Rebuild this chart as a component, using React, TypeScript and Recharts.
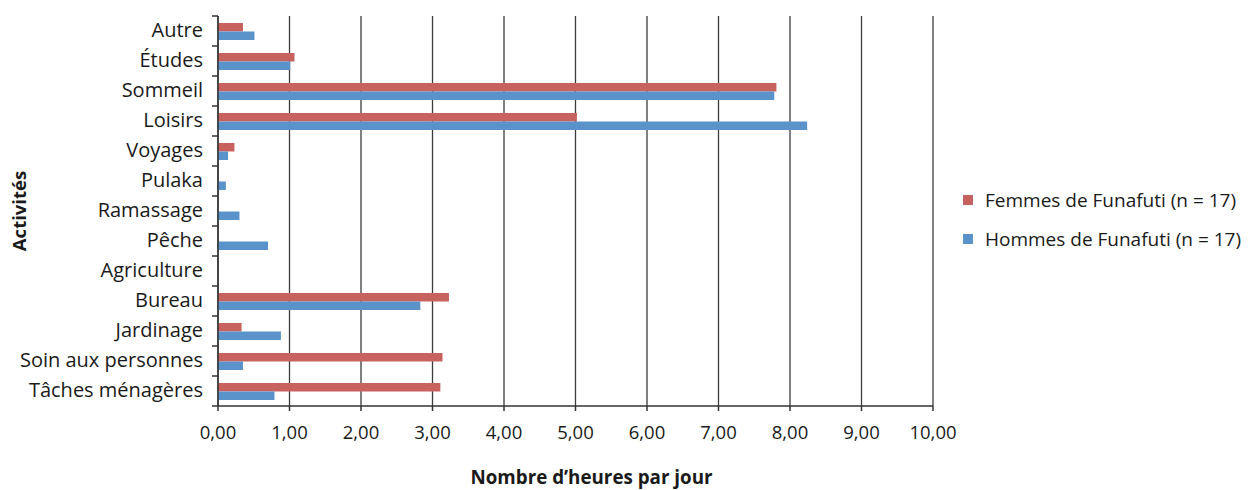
import React from 'react';
import { BarChart, Bar, XAxis, YAxis, CartesianGrid, Legend, Label } from 'recharts';

const categories = [
  'Autre',
  'Études',
  'Sommeil',
  'Loisirs',
  'Voyages',
  'Pulaka',
  'Ramassage',
  'Pêche',
  'Agriculture',
  'Bureau',
  'Jardinage',
  'Soin aux personnes',
  'Tâches ménagères',
];
const femmes = [0.35, 1.07, 7.81, 5.02, 0.23, 0, 0, 0, 0, 3.23, 0.33, 3.14, 3.11];
const hommes = [0.51, 1.01, 7.78, 8.24, 0.14, 0.11, 0.3, 0.7, 0, 2.83, 0.88, 0.35, 0.79];
const hourTicks = [0, 1, 2, 3, 4, 5, 6, 7, 8, 9, 10];

const seriesNames = {
  femmes: 'Femmes de Funafuti (n = 17)',
  hommes: 'Hommes de Funafuti (n = 17)',
};

const RED = '#C8625E';
const BLUE = '#5A93C9';
const AXIS = '#333';
const FONT = '"Open Sans", sans-serif';

const Y_AXIS_W = 218;

const data = categories.map((name, i) => ({ name, femmes: femmes[i], hommes: hommes[i] }));

// category labels, with the tick marks sitting on the band edges
const CategoryTick = (props: any) => {
  const { y, payload, index } = props;
  const half = payload?.offset ?? 15;
  const last = index === categories.length - 1;
  return (
    <g>
      <line x1={Y_AXIS_W - 6} x2={Y_AXIS_W} y1={y - half} y2={y - half} stroke={AXIS} strokeWidth={1.5} />
      {last && (
        <line x1={Y_AXIS_W - 6} x2={Y_AXIS_W} y1={y + half} y2={y + half} stroke={AXIS} strokeWidth={1.5} />
      )}
      <text x={Y_AXIS_W - 15} y={y - 1} dy="0.35em" textAnchor="end" fontSize={20} fill="#1a1a1a">
        {payload.value}
      </text>
    </g>
  );
};

const LegendBox = () => (
  <div style={{ fontFamily: FONT, fontSize: 19, color: '#1a1a1a' }}>
    {[
      { label: seriesNames.femmes, color: RED },
      { label: seriesNames.hommes, color: BLUE },
    ].map((item) => (
      <div key={item.label} style={{ display: 'flex', alignItems: 'center', height: 39.5 }}>
        <span
          style={{
            display: 'inline-block',
            flexShrink: 0,
            width: 10,
            height: 10,
            background: item.color,
            marginLeft: 30,
            marginRight: 12,
          }}
        />
        <span style={{ whiteSpace: 'nowrap', flexShrink: 0 }}>{item.label}</span>
      </div>
    ))}
  </div>
);

export default function App() {
  return (
    <div style={{ position: 'absolute', left: 0, top: 0, width: 1253, height: 490, background: '#fff', fontFamily: FONT }}>
      <BarChart
        width={1253}
        height={490}
        data={data}
        layout="vertical"
        margin={{ top: 16, right: 20, left: 0, bottom: 0 }}
        barGap={0}
        barSize={8.5}
      >
        <CartesianGrid horizontal={false} stroke="#3c3c3c" strokeWidth={1.3} />
        <XAxis
          type="number"
          domain={[0, 10]}
          ticks={hourTicks}
          interval={0}
          height={84}
          tickSize={5}
          tickMargin={15}
          axisLine={{ stroke: AXIS, strokeWidth: 1.5 }}
          tickLine={{ stroke: AXIS, strokeWidth: 1.5 }}
          tick={{ fill: '#1a1a1a', fontSize: 18.5 }}
          tickFormatter={(v: number) => v.toFixed(2).replace('.', ',')}
        >
          <Label
            value="Nombre d’heures par jour"
            position="insideBottom"
            offset={6}
            dx={16}
            style={{ fontWeight: 700, fontSize: 18.8, fill: '#1a1a1a' }}
          />
        </XAxis>
        <YAxis
          type="category"
          dataKey="name"
          width={Y_AXIS_W}
          tickLine={false}
          axisLine={{ stroke: AXIS, strokeWidth: 1.5 }}
          tick={<CategoryTick />}
          interval={0}
        >
          <Label
            content={({ viewBox }: any) => {
              const cy = viewBox.y + viewBox.height / 2;
              return (
                <text
                  x={18}
                  y={cy}
                  transform={`rotate(-90, 18, ${cy})`}
                  textAnchor="middle"
                  dominantBaseline="central"
                  fontWeight={700}
                  fontSize={18.5}
                  fill="#1a1a1a"
                >
                  Activités
                </text>
              );
            }}
          />
        </YAxis>
        <Legend
          layout="vertical"
          align="right"
          verticalAlign="middle"
          content={<LegendBox />}
          wrapperStyle={{ width: 300, top: 180 }}
        />
        <Bar dataKey="femmes" name={seriesNames.femmes} fill={RED} isAnimationActive={false} />
        <Bar dataKey="hommes" name={seriesNames.hommes} fill={BLUE} isAnimationActive={false} />
      </BarChart>
    </div>
  );
}
